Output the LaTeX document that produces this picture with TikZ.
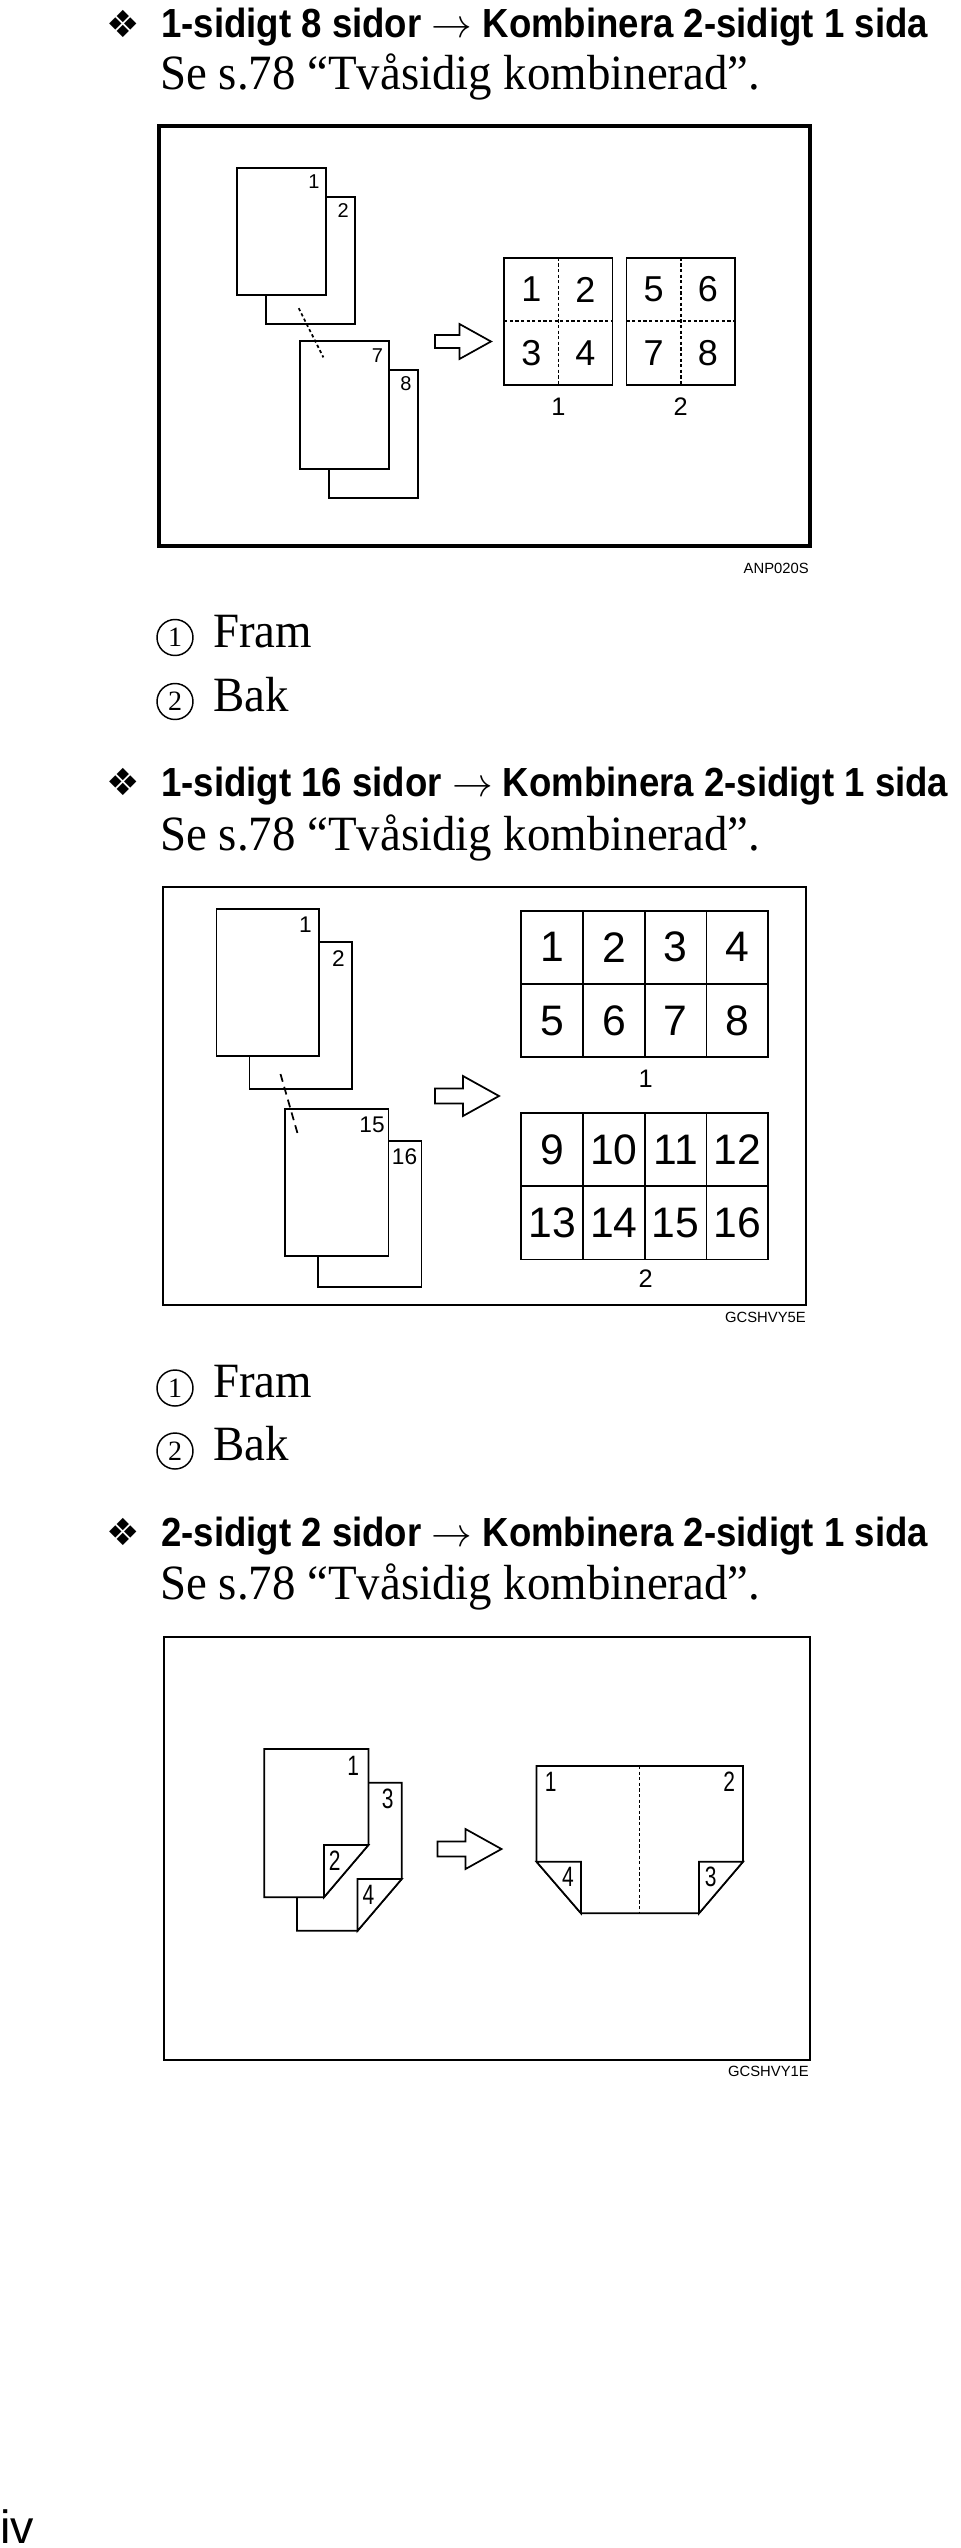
\RequirePackage{fix-cm}
\documentclass[tikz,border=0pt]{standalone}
\usepackage{fontspec}
\setmainfont{Liberation Serif}
\setsansfont{Liberation Sans}
\newfontfamily\symfont{DejaVu Sans}
\newfontfamily\headfont[FakeStretch=0.9]{Liberation Sans}
\newfontfamily\bodyfont[FakeStretch=0.95]{Liberation Serif}
\newfontfamily\narrowfont[FakeStretch=0.75]{Liberation Sans}
\usetikzlibrary{positioning}

% hollow block arrow: x, y (tip height), size
\newcommand{\hollowarrow}[3]{%
  \draw[sheet] ({#1},{#2-7.5*#3}) -- ++({28*#3},0) -- ++(0,{-12.5*#3})
    -- ++({36*#3},{20*#3}) -- ++({-36*#3},{20*#3}) -- ++(0,{-12.5*#3})
    -- ++({-28*#3},0) -- cycle;}

\tikzset{
  head/.style={anchor=base west,inner sep=0pt,font=\headfont\bfseries\fontsize{30.5}{36}\selectfont},
  body/.style={anchor=base west,inner sep=0pt,font=\bodyfont\fontsize{37}{44}\selectfont},
  bullet/.style={inner sep=0pt,font=\symfont\fontsize{28}{28}\selectfont},
  circnum/.style={circle,draw,line width=1.1pt,minimum size=27pt,inner sep=0pt,font=\fontsize{21}{21}\selectfont},
  code/.style={anchor=base east,inner sep=0pt,font=\sffamily\fontsize{11.1}{12}\selectfont},
  frame/.style={draw,line width=1.5pt},
  sheet/.style={draw,fill=white,line width=1.3pt,line join=miter},
  pgnum/.style={inner sep=0pt,font=\sffamily\fontsize{15}{15}\selectfont},
  bignum/.style={inner sep=0pt,font=\sffamily\fontsize{27}{27}\selectfont},
  cell/.style={draw,line width=1.3pt,minimum width=46.3pt,minimum height=55pt,inner sep=0pt,
    font=\sffamily\fontsize{32}{32}\selectfont},
  foldnum/.style={inner sep=0pt,font=\narrowfont\fontsize{21}{21}\selectfont},
  divider/.style={line width=1.2pt,dash pattern=on 2.4pt off 1.8pt}
}

\begin{document}
\begin{tikzpicture}[x=0.75pt,y=-0.75pt]
  \useasboundingbox (0,0) rectangle (960,2548);

  % ---------- 1-sidigt 8 sidor ----------
  \node[bullet] (bul1) at (123,24) {❖};
  \node[head] (head1) at (161,37.5) {1-sidigt 8 sidor $\rightarrow$ Kombinera 2-sidigt 1 sida};
  \node[body] (body1) at (160,89.5) {Se s.78 “Tvåsidig kombinerad”.};
  \draw[frame,line width=2.6pt] (159,126) rectangle (810,546);
  % originals
  \draw[sheet] (266.3,196.8) rectangle (355,323.8);
  \draw[sheet] (237.3,167.9) rectangle (326,294.9);
  \draw[sheet] (329,369.7) rectangle (417.7,497.7);
  \draw[sheet] (300,340.8) rectangle (388.7,468.8);
  \node[pgnum] (pa1) at (313.9,181.9) {1};
  \node[pgnum] (pa2) at (343.3,210.1) {2};
  \node[pgnum] (pa7) at (377.5,355.4) {7};
  \node[pgnum] (pa8) at (406,384) {8};
  \coordinate (dotA) at (298.7,308.2);
  \coordinate (dotB) at (323.4,357.4);
  \draw[line width=1.3pt,dash pattern=on 2.4pt off 2pt] (dotA) -- (dotB);
  \hollowarrow{435}{341.5}{0.875}
  % copies
  \draw[sheet] (504.2,257.7) rectangle (612.4,384.7);
  \draw[sheet] (626.6,257.7) rectangle (734.8,384.7);
  \draw[divider] (558.3,257.7) -- (558.3,384.7);
  \draw[divider] (504.2,321.2) -- (612.4,321.2);
  \draw[divider] (680.7,257.7) -- (680.7,384.7);
  \draw[divider] (626.6,321.2) -- (734.8,321.2);
  \foreach \d/\cx/\cy in {1/531.3/289.5, 2/585.4/289.5, 3/531.3/353, 4/585.4/353,
                          5/653.7/289.5, 6/707.8/289.5, 7/653.7/353, 8/707.8/353}
    \node[bignum] (q\d) at (\cx,\cy) {\d};
  \node[pgnum,font=\sffamily\fontsize{19}{19}\selectfont] (sa1) at (558.3,406.3) {1};
  \node[pgnum,font=\sffamily\fontsize{19}{19}\selectfont] (sa2) at (680.7,406.3) {2};
  \node[code] (code1) at (809,573) {ANP020S};
  \node[circnum] (ca1) at (175,637.5) {1};
  \node[body] (fram1) at (213,647) {Fram};
  \node[circnum] (ca2) at (175,701.5) {2};
  \node[body] (bak1) at (213,711) {Bak};

  % ---------- 1-sidigt 16 sidor ----------
  \node[bullet] (bul2) at (123,782.3) {❖};
  \node[head] (head2) at (161,796) {1-sidigt 16 sidor $\rightarrow$ Kombinera 2-sidigt 1 sida};
  \node[body] (body2) at (160,850) {Se s.78 “Tvåsidig kombinerad”.};
  \draw[frame] (163,886.7) rectangle (806,1305);
  % originals
  \draw[sheet] (249.6,941.7) rectangle (351.9,1089);
  \draw[sheet] (216.5,909.3) rectangle (318.8,1055.7);
  \draw[sheet] (318,1140.7) rectangle (421.6,1287.3);
  \draw[sheet] (284.9,1109) rectangle (388.5,1255.7);
  \node[pgnum,font=\sffamily\fontsize{17}{17}\selectfont] (pb1) at (305.3,925) {1};
  \node[pgnum,font=\sffamily\fontsize{17}{17}\selectfont] (pb2) at (338.4,958.3) {2};
  \node[pgnum,font=\sffamily\fontsize{17}{17}\selectfont] (pb15) at (372,1125) {15};
  \node[pgnum,font=\sffamily\fontsize{17}{17}\selectfont] (pb16) at (404.6,1156.7) {16};
  \coordinate (dashA) at (280.5,1074);
  \coordinate (dashB) at (298,1135);
  \draw[line width=1.3pt,dash pattern=on 6pt off 4pt] (dashA) -- (dashB);
  \hollowarrow{435}{1096}{1}
  % copies
  \foreach \r in {0,1}
    \foreach \c in {0,...,3} {
      \pgfmathtruncatemacro\na{4*\r+\c+1}
      \pgfmathtruncatemacro\nb{4*\r+\c+9}
      \node[cell] (ga\na) at ({552.2+61.75*\c},{947.3+73.3*\r}) {\na};
      \node[cell] (gb\nb) at ({552.2+61.75*\c},{1149.8+73*\r}) {\nb};
    }
  \node[pgnum,font=\sffamily\fontsize{19}{19}\selectfont] (sb1) at (645.6,1078.3) {1};
  \node[pgnum,font=\sffamily\fontsize{19}{19}\selectfont] (sb2) at (645.6,1278.3) {2};
  \node[code] (code2) at (806,1322) {GCSHVY5E};
  \node[circnum] (cb1) at (175,1388) {1};
  \node[body] (fram2) at (213,1397.5) {Fram};
  \node[circnum] (cb2) at (175,1451) {2};
  \node[body] (bak2) at (213,1460.5) {Bak};

  % ---------- 2-sidigt 2 sidor ----------
  \node[bullet] (bul3) at (123,1532.3) {❖};
  \node[head] (head3) at (161,1546) {2-sidigt 2 sidor $\rightarrow$ Kombinera 2-sidigt 1 sida};
  \node[body] (body3) at (160,1599) {Se s.78 “Tvåsidig kombinerad”.};
  \draw[frame] (164,1637.3) rectangle (810,2060);
  % originals with folded corner
  \draw[sheet] (297.1,1782.7) -- (401.7,1782.7) -- (401.7,1879) -- (357.6,1930.7)
    -- (297.1,1930.7) -- cycle;
  \draw[sheet] (357.6,1879) -- (401.7,1879) -- (357.6,1930.7) -- cycle;
  \draw[sheet] (264.2,1749) -- (368.4,1749) -- (368.4,1845) -- (323.9,1897.3)
    -- (264.2,1897.3) -- cycle;
  \draw[sheet] (323.9,1845) -- (368.4,1845) -- (323.9,1897.3) -- cycle;
  \node[foldnum] (pc1) at (353.3,1765.7) {1};
  \node[foldnum] (pc3) at (387.8,1799.3) {3};
  \node[foldnum] (pc2) at (334.7,1860.7) {2};
  \node[foldnum] (pc4) at (368.4,1895) {4};
  \hollowarrow{437.5}{1849}{1}
  % copy
  \draw[sheet] (536.5,1766) -- (743,1766) -- (743,1861.7) -- (699,1913.3)
    -- (581,1913.3) -- (536.5,1861.7) -- cycle;
  \draw[sheet] (536.5,1861.7) -- (581,1861.7) -- (581,1913.3) -- cycle;
  \draw[sheet] (699,1861.7) -- (743,1861.7) -- (699,1913.3) -- cycle;
  \draw[divider] (639.3,1766) -- (639.3,1913.3);
  \node[foldnum] (oc1) at (550.7,1781.7) {1};
  \node[foldnum] (oc2) at (729.2,1781.7) {2};
  \node[foldnum] (oc4) at (568,1877.3) {4};
  \node[foldnum] (oc3) at (710.6,1877.3) {3};
  \node[code] (code3) at (809,2076) {GCSHVY1E};

  % folio
  \node[anchor=base west,inner sep=0pt,font=\sffamily\fontsize{35}{35}\selectfont] (folio) at (0,2543) {iv};
\end{tikzpicture}
\end{document}
